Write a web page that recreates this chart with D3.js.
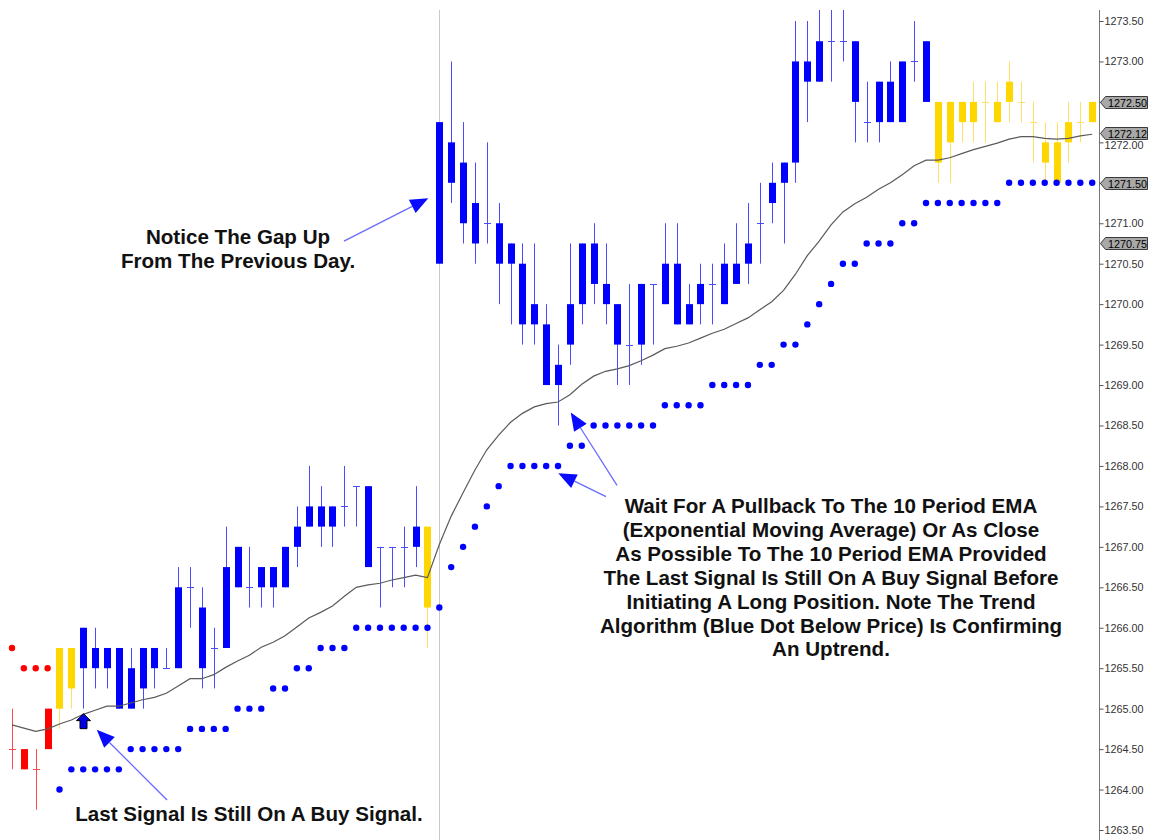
<html>
<head>
<title>Pullback to EMA</title>
<style>
body { margin:0; background:#fff; }
svg { display:block; }
</style>
</head>
<body>
<svg width='1151' height='840'></svg>
<script src="https://d3js.org/d3.v7.min.js"></script>
<script>
// one entry per bar, oldest first
var opens  = [1264.5,1264.5,1264.25,1264.5,1265.0,1265.75,1265.5,1265.75,1265.5,1265.75,
              1265.0,1265.25,1265.75,1265.5,1265.5,1266.5,1266.25,1265.75,1265.75,1266.5,
              1266.5,1266.5,1266.75,1266.5,1267.0,1267.25,1267.5,1267.25,1267.5,1267.75,
              1267.75,1267.0,1267.0,1267.0,1267.0,1267.25,1270.5,1272.0,1271.75,1271.25,
              1271.0,1271.0,1270.75,1270.5,1269.75,1269.75,1269.0,1269.5,1270.0,1270.75,
              1270.25,1270.0,1269.5,1269.5,1270.25,1270.0,1270.5,1269.75,1270.0,1270.25,
              1270.0,1270.25,1270.5,1271.0,1271.25,1271.5,1271.75,1273.0,1272.75,1273.25,
              1273.25,1273.25,1272.25,1272.25,1272.75,1272.25,1273.0,1272.5,1272.5,1272.0,
              1272.5,1272.25,1272.5,1272.5,1272.5,1272.5,1272.25,1272.0,1272.0,1272.0,
              1272.25,1272.25];
var highs  = [1265.0,1264.5,1264.5,1265.0,1265.75,1265.75,1266.0,1266.0,1265.75,1265.75,
              1265.75,1265.75,1265.75,1265.75,1266.75,1266.75,1266.5,1266.0,1267.25,1267.0,
              1267.0,1266.75,1266.75,1267.0,1267.5,1268.0,1267.75,1267.5,1268.0,1267.75,
              1267.75,1267.0,1267.0,1267.25,1267.75,1267.25,1272.25,1273.0,1272.25,1271.75,
              1272.0,1271.25,1270.75,1270.75,1270.75,1270.0,1269.5,1270.75,1270.75,1271.0,
              1270.75,1270.0,1270.25,1270.25,1270.25,1271.0,1271.0,1270.25,1270.5,1270.5,
              1270.75,1271.0,1271.25,1271.5,1271.75,1271.75,1273.5,1273.5,1273.75,1273.75,
              1273.75,1273.25,1272.75,1272.75,1273.0,1273.0,1273.5,1273.25,1272.5,1272.5,
              1272.5,1272.75,1272.75,1272.75,1273.0,1272.75,1272.5,1272.25,1272.25,1272.5,
              1272.5,1272.5];
var lows   = [1264.25,1264.25,1263.75,1264.5,1264.75,1265.0,1265.0,1265.25,1265.25,1265.0,
              1265.0,1265.0,1265.25,1265.5,1265.5,1266.0,1265.25,1265.25,1265.75,1266.5,
              1266.25,1266.25,1266.25,1266.5,1266.75,1267.25,1267.0,1267.0,1267.25,1267.25,
              1266.75,1266.25,1266.5,1266.5,1266.75,1265.75,1270.5,1271.25,1270.75,1270.5,
              1270.75,1270.0,1269.75,1269.5,1269.5,1269.0,1268.5,1269.25,1269.75,1270.0,
              1269.75,1269.0,1269.0,1269.25,1269.5,1270.0,1269.75,1269.75,1269.75,1269.75,
              1270.0,1270.25,1270.25,1270.5,1271.0,1270.75,1271.5,1272.25,1272.75,1272.75,
              1273.0,1272.0,1272.0,1272.0,1272.25,1272.25,1272.75,1272.5,1271.5,1271.5,
              1272.0,1272.0,1272.0,1272.25,1272.25,1272.25,1271.75,1271.5,1271.5,1271.75,
              1272.0,1272.25];
var closes = [1264.5,1264.25,1264.25,1265.0,1265.75,1265.25,1266.0,1265.5,1265.75,1265.0,
              1265.5,1265.75,1265.5,1265.5,1266.5,1266.5,1265.5,1265.75,1266.75,1267.0,
              1266.5,1266.75,1266.5,1267.0,1267.25,1267.5,1267.25,1267.5,1267.5,1267.75,
              1266.75,1267.0,1267.0,1267.0,1267.25,1266.25,1272.25,1271.5,1271.0,1270.75,
              1271.0,1270.5,1270.5,1269.75,1270.0,1269.0,1269.25,1270.0,1270.75,1270.25,
              1270.0,1269.5,1269.5,1270.25,1270.25,1270.5,1269.75,1270.0,1270.25,1270.25,
              1270.5,1270.5,1270.75,1271.0,1271.5,1271.75,1273.0,1272.75,1273.25,1273.25,
              1273.25,1272.5,1272.25,1272.75,1272.25,1273.0,1273.0,1273.25,1271.75,1272.5,
              1272.25,1272.5,1272.5,1272.25,1272.75,1272.5,1272.25,1271.75,1271.5,1272.25,
              1272.25,1272.5];
// trend state that colours each bar
var trend  = ['dn','dn','dn','dn','nt','nt','up','up','up','up',
              'up','up','up','up','up','up','up','up','up','up',
              'up','up','up','up','up','up','up','up','up','up',
              'up','up','up','up','up','nt','up','up','up','up',
              'up','up','up','up','up','up','up','up','up','up',
              'up','up','up','up','up','up','up','up','up','up',
              'up','up','up','up','up','up','up','up','up','up',
              'up','up','up','up','up','up','up','up','nt','nt',
              'nt','nt','nt','nt','nt','nt','nt','nt','nt','nt',
              'nt','nt'];
// 10 period EMA
var ema10  = [1264.80,1264.76,1264.72,1264.75,1264.81,1264.86,1264.93,1264.98,1265.03,1265.03,
              1265.07,1265.11,1265.14,1265.19,1265.28,1265.37,1265.37,1265.42,1265.51,1265.59,
              1265.66,1265.76,1265.82,1265.90,1266.01,1266.12,1266.19,1266.27,1266.39,1266.50,
              1266.53,1266.55,1266.59,1266.62,1266.65,1266.62,1267.03,1267.38,1267.67,1267.95,
              1268.20,1268.38,1268.54,1268.65,1268.73,1268.77,1268.79,1268.88,1269.01,1269.11,
              1269.17,1269.20,1269.24,1269.30,1269.37,1269.45,1269.48,1269.52,1269.58,1269.64,
              1269.69,1269.76,1269.83,1269.93,1270.03,1270.17,1270.37,1270.60,1270.78,1270.98,
              1271.14,1271.24,1271.32,1271.42,1271.50,1271.60,1271.71,1271.78,1271.78,1271.81,
              1271.86,1271.91,1271.95,1271.99,1272.04,1272.07,1272.07,1272.05,1272.04,1272.05,
              1272.08,1272.10];
// trend algorithm stop dots
var stops  = [1265.75,1265.5,1265.5,1265.5,1264.0,1264.25,1264.25,1264.25,1264.25,1264.25,
              1264.5,1264.5,1264.5,1264.5,1264.5,1264.75,1264.75,1264.75,1264.75,1265.0,
              1265.0,1265.0,1265.25,1265.25,1265.5,1265.5,1265.75,1265.75,1265.75,1266.0,
              1266.0,1266.0,1266.0,1266.0,1266.0,1266.0,1266.25,1266.75,1267.0,1267.25,
              1267.5,1267.75,1268.0,1268.0,1268.0,1268.0,1268.0,1268.25,1268.25,1268.5,
              1268.5,1268.5,1268.5,1268.5,1268.5,1268.75,1268.75,1268.75,1268.75,1269.0,
              1269.0,1269.0,1269.0,1269.25,1269.25,1269.5,1269.5,1269.75,1270.0,1270.25,
              1270.5,1270.5,1270.75,1270.75,1270.75,1271.0,1271.0,1271.25,1271.25,1271.25,
              1271.25,1271.25,1271.25,1271.25,1271.5,1271.5,1271.5,1271.5,1271.5,1271.5,
              1271.5,1271.5];
var stopSide = ['above','above','above','above'];   // the rest sit below price

var yTicks = [1263.5,1264.0,1264.5,1265.0,1265.5,1266.0,1266.5,1267.0,1267.5,1268.0,
              1268.5,1269.0,1269.5,1270.0,1270.5,1271.0,1271.5,1272.0,1272.5,1273.0,1273.5];
var priceTags = [1272.50, 1272.12, 1271.50, 1270.75];
var sessionStart = 36;
var buySignalBar = 6;

// annotation arrows: [tail bar, tail price, tip bar, tip price]
var arrows = [[27.97,1270.78, 35.07,1271.31],
              [13.06,1263.87,  7.14,1264.74],
              [50.04,1267.62, 46.02,1267.91],
              [50.97,1267.76, 47.07,1268.66]];
var gapNote = ['Notice The Gap Up', 'From The Previous Day.'];
var buyNote = ['Last Signal Is Still On A Buy Signal.'];
var emaNote = ['Wait For A Pullback To The 10 Period EMA',
               '(Exponential Moving Average) Or As Close',
               'As Possible To The 10 Period EMA Provided',
               'The Last Signal Is Still On A Buy Signal Before',
               'Initiating A Long Position. Note The Trend',
               'Algorithm (Blue Dot Below Price) Is Confirming',
               'An Uptrend.'];

var W = 1151, H = 840;
var plotTop = 10, axisX = 1099;
var svg = d3.select('svg');

var x = d3.scaleLinear().domain([0, opens.length - 1]).range([12, 1092.2]);
var y = d3.scaleLinear().domain([1263.5, 1273.5]).range([830, 21]);
var fmt = d3.format('.2f');

var bodyCol = {dn:'#ff0000', nt:'#ffd700', up:'#0000ff'};
var wickCol = {dn:'#ff4a4a', nt:'#ffe066', up:'#4b4bff'};

svg.append('defs').append('clipPath').attr('id', 'plot')
  .append('rect').attr('x', 0).attr('y', plotTop).attr('width', axisX).attr('height', H - plotTop);

// day divider
svg.append('line')
  .attr('x1', Math.round(x(sessionStart)) + 0.5).attr('x2', Math.round(x(sessionStart)) + 0.5)
  .attr('y1', plotTop).attr('y2', H)
  .style('stroke', '#c8c8c8').style('stroke-width', 1);

var g = svg.append('g').attr('clip-path', 'url(#plot)');
var idx = d3.range(opens.length);
function cx(i) { return Math.round(x(i)); }

// wicks
g.selectAll('.wick').data(idx).enter().append('line')
  .attr('x1', function(i){ return cx(i) + 0.5; })
  .attr('x2', function(i){ return cx(i) + 0.5; })
  .attr('y1', function(i){ return y(highs[i]); })
  .attr('y2', function(i){ return y(lows[i]); })
  .style('stroke', function(i){ return wickCol[trend[i]]; })
  .style('stroke-width', 1);

// bodies
g.selectAll('.body').data(idx.filter(function(i){ return opens[i] != closes[i]; })).enter().append('rect')
  .attr('x', function(i){ return cx(i) - 3; })
  .attr('width', 7)
  .attr('y', function(i){ return y(Math.max(opens[i], closes[i])); })
  .attr('height', function(i){ return y(Math.min(opens[i], closes[i])) - y(Math.max(opens[i], closes[i])); })
  .style('fill', function(i){ return bodyCol[trend[i]]; });

// open == close
g.selectAll('.doji').data(idx.filter(function(i){ return opens[i] == closes[i]; })).enter().append('line')
  .attr('x1', function(i){ return cx(i) - 3; })
  .attr('x2', function(i){ return cx(i) + 4; })
  .attr('y1', function(i){ return Math.round(y(opens[i])) + 0.5; })
  .attr('y2', function(i){ return Math.round(y(opens[i])) + 0.5; })
  .style('stroke', function(i){ return wickCol[trend[i]]; })
  .style('stroke-width', 1);

// EMA
g.append('path')
  .datum(ema10)
  .attr('d', d3.line().x(function(d, i){ return x(i); }).y(function(d){ return y(d); }))
  .style('fill', 'none').style('stroke', '#5a5a5a').style('stroke-width', 1.2);

// stop dots
g.selectAll('.stop').data(idx).enter().append('circle')
  .attr('cx', function(i){ return x(i); })
  .attr('cy', function(i){ return y(stops[i]); })
  .attr('r', 3.2)
  .style('fill', function(i){ return stopSide[i] == 'above' ? '#ff0000' : '#0000ff'; });

// buy signal marker
var sx = cx(buySignalBar) + 0.5, st = y(lows[buySignalBar]) + 5;
svg.append('path')
  .attr('d', 'M' + sx + ',' + st + 'L' + (sx + 7) + ',' + (st + 7) + 'L' + (sx + 3.5) + ',' + (st + 7) +
             'L' + (sx + 3.5) + ',' + (st + 15) + 'L' + (sx - 3.5) + ',' + (st + 15) + 'L' + (sx - 3.5) + ',' + (st + 7) +
             'L' + (sx - 7) + ',' + (st + 7) + 'Z')
  .style('fill', '#0000e6').style('stroke', '#000').style('stroke-width', 1);

// right axis
svg.append('line')
  .attr('x1', axisX + 0.5).attr('x2', axisX + 0.5).attr('y1', plotTop).attr('y2', H)
  .style('stroke', '#777').style('stroke-width', 1);

// labels hidden under a value tag are left out
var tagged = priceTags.map(fmt);
var axis = svg.append('g')
  .attr('transform', 'translate(' + (axisX + 0.5) + ',0)')
  .call(d3.axisRight(y).tickValues(yTicks).tickSize(4).tickPadding(1)
    .tickFormat(function(d){ return tagged.indexOf(fmt(d)) >= 0 ? '' : fmt(d); }));
axis.select('.domain').remove();
axis.selectAll('line').style('stroke', '#555');
axis.selectAll('text')
  .attr('font-family', 'Liberation Sans, Arial, sans-serif')
  .attr('font-size', '10.8px')
  .attr('fill', '#333');
// the 1272.00 label sits just under the EMA tag, as in the source chart
axis.selectAll('text').filter(function(d){ return d == 1272.0; }).attr('dy', '0.55em');

// last value tags
priceTags.forEach(function(p){
  var yc = Math.round(y(p)) + 0.5;
  svg.append('path')
    .attr('d', 'M' + (axisX + 1.5) + ',' + yc + 'L' + (axisX + 6.5) + ',' + (yc - 6) + 'L' + 1147.5 + ',' + (yc - 6) +
               'L' + 1147.5 + ',' + (yc + 6) + 'L' + (axisX + 6.5) + ',' + (yc + 6) + 'Z')
    .style('fill', '#a8a8a8').style('stroke', '#3a3a3a').style('stroke-width', 1);
  svg.append('text')
    .text(fmt(p))
    .attr('x', axisX + 9).attr('y', yc + 4)
    .attr('font-family', 'Liberation Sans, Arial, sans-serif')
    .attr('font-size', '10.8px')
    .attr('fill', '#000');
});

// arrows
arrows.forEach(function(a){
  var x0 = x(a[0]), y0 = y(a[1]), x1 = x(a[2]), y1 = y(a[3]);
  var ang = Math.atan2(y1 - y0, x1 - x0);
  var len = 18, half = 7.5;
  var bx = x1 - len * Math.cos(ang), by = y1 - len * Math.sin(ang);
  svg.append('line')
    .attr('x1', x0).attr('y1', y0).attr('x2', bx).attr('y2', by)
    .style('stroke', '#6b6bff').style('stroke-width', 1.3);
  svg.append('path')
    .attr('d', 'M' + x1 + ',' + y1 +
               'L' + (bx + half * Math.sin(ang)) + ',' + (by - half * Math.cos(ang)) +
               'L' + (bx - half * Math.sin(ang)) + ',' + (by + half * Math.cos(ang)) + 'Z')
    .style('fill', '#0a0aff');
});

function note(lines, cxp, y0, step) {
  svg.selectAll(null).data(lines).enter().append('text')
    .text(function(d){ return d; })
    .attr('x', cxp)
    .attr('y', function(d, i){ return y0 + i * step; })
    .attr('text-anchor', 'middle')
    .attr('font-family', 'Liberation Sans, Arial, sans-serif')
    .attr('font-weight', 'bold')
    .attr('font-size', '20.6px')
    .attr('fill', '#111');
}
note(gapNote, 238, 244, 23.5);
note(buyNote, 249, 821, 24);
note(emaNote, 831, 513, 23.9);
</script>
</body>
</html>
